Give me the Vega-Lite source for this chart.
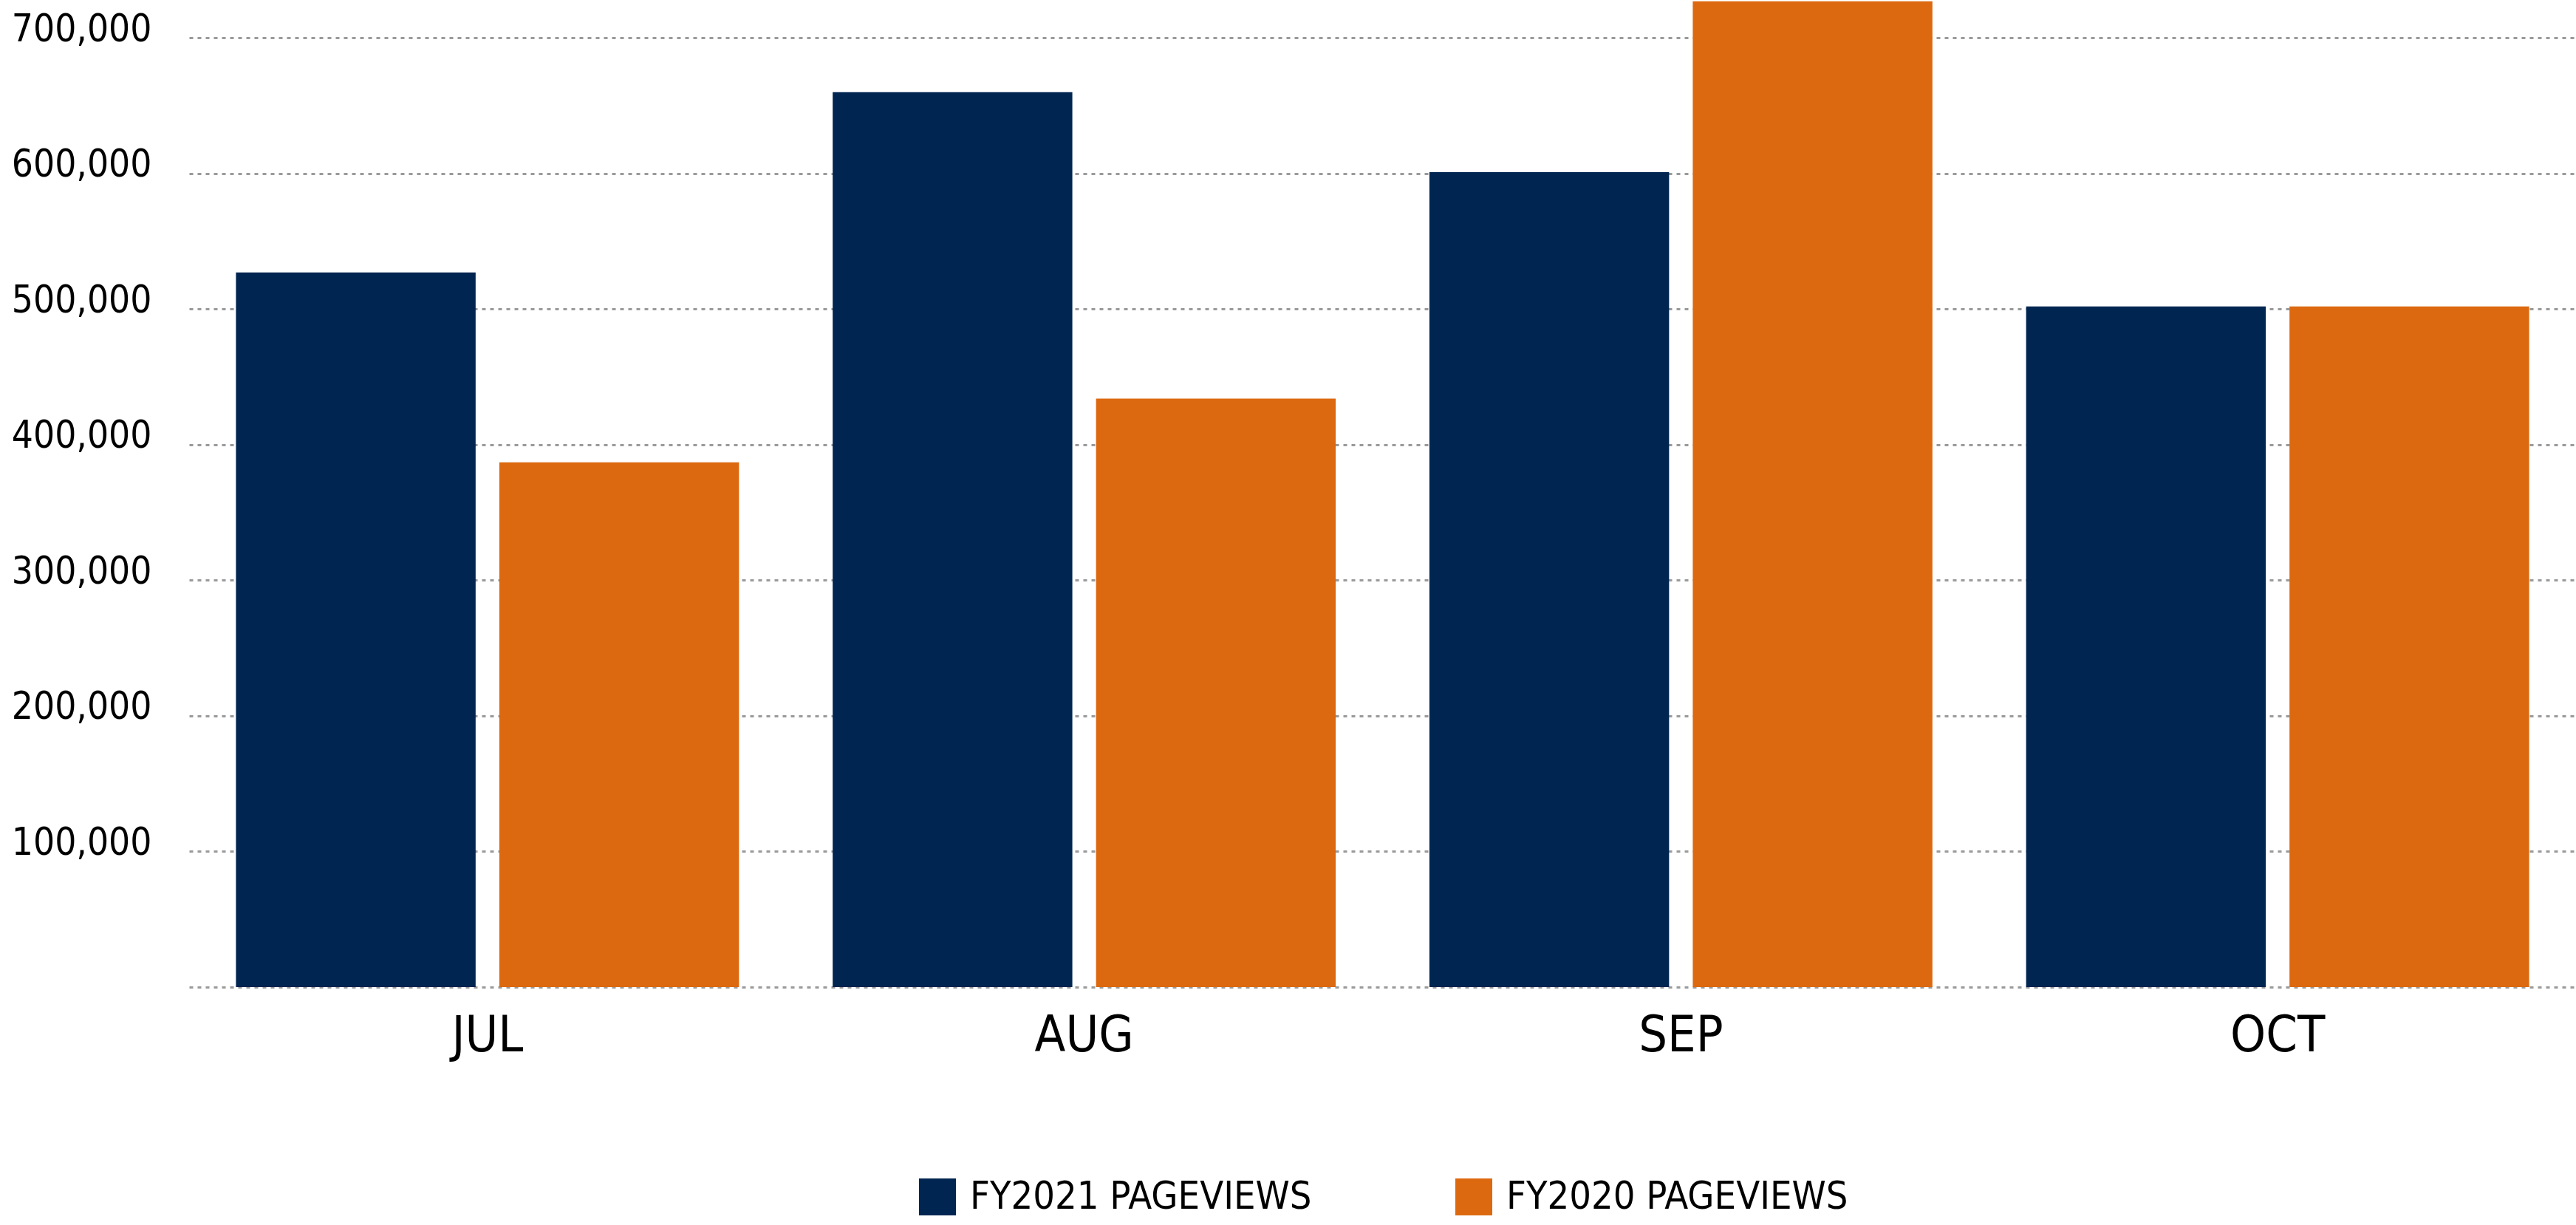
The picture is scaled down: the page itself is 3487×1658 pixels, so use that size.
{
  "$schema": "https://vega.github.io/schema/vega-lite/v6.json",
  "width": 3231,
  "height": 1336,
  "autosize": {"type": "none"},
  "padding": {"left": 256, "top": 0, "right": 0, "bottom": 322},
  "background": "white",
  "config": {
    "view": {"stroke": null},
    "font": "'Liberation Sans Narrow', 'DejaVu Sans Condensed', 'Roboto Condensed', Roboto, sans-serif"
  },
  "data": {
    "values": [
      {"month": "JUL", "series": "FY2021 PAGEVIEWS", "value": 527000},
      {"month": "JUL", "series": "FY2020 PAGEVIEWS", "value": 387000},
      {"month": "AUG", "series": "FY2021 PAGEVIEWS", "value": 660000},
      {"month": "AUG", "series": "FY2020 PAGEVIEWS", "value": 434000},
      {"month": "SEP", "series": "FY2021 PAGEVIEWS", "value": 601000},
      {"month": "SEP", "series": "FY2020 PAGEVIEWS", "value": 727000},
      {"month": "OCT", "series": "FY2021 PAGEVIEWS", "value": 502000},
      {"month": "OCT", "series": "FY2020 PAGEVIEWS", "value": 502000}
    ]
  },
  "mark": {"type": "bar"},
  "encoding": {
    "x": {
      "field": "month",
      "type": "nominal",
      "sort": ["JUL", "AUG", "SEP", "OCT"],
      "scale": {"paddingInner": 0.157, "paddingOuter": 0.0785},
      "axis": {
        "title": null,
        "domain": false,
        "ticks": false,
        "tickSize": 0,
        "grid": false,
        "labelAngle": 0,
        "labelFont": "'Liberation Sans Narrow', 'DejaVu Sans Condensed', 'Roboto Condensed', Roboto, sans-serif",
        "labelFontSize": 68,
        "labelColor": "#000000",
        "labelPadding": 32,
        "labelBaseline": "top",
        "labelLimit": 0
      }
    },
    "xOffset": {
      "field": "series",
      "type": "nominal",
      "sort": ["FY2021 PAGEVIEWS", "FY2020 PAGEVIEWS"],
      "scale": {"paddingInner": 0.09, "paddingOuter": 0}
    },
    "y": {
      "field": "value",
      "type": "quantitative",
      "scale": {"domain": [0, 728000], "nice": false},
      "axis": {
        "title": null,
        "domain": false,
        "ticks": false,
        "tickSize": 0,
        "values": [0, 100000, 200000, 300000, 400000, 500000, 600000, 700000],
        "labelExpr": "datum.value === 0 ? '' : format(datum.value, ',')",
        "labelFont": "'Liberation Sans Narrow', 'DejaVu Sans Condensed', 'Roboto Condensed', Roboto, sans-serif",
        "labelFontSize": 51,
        "labelColor": "#000000",
        "labelPadding": 51,
        "labelAlign": "right",
        "labelBaseline": "middle",
        "labelOffset": -11,
        "labelLimit": 0,
        "grid": true,
        "gridColor": "#9a9a9a",
        "gridWidth": 3,
        "gridDash": [5, 6],
        "gridOpacity": 1
      }
    },
    "color": {
      "field": "series",
      "type": "nominal",
      "scale": {
        "domain": ["FY2021 PAGEVIEWS", "FY2020 PAGEVIEWS"],
        "range": ["#012551", "#DC6910"]
      },
      "legend": {
        "title": null,
        "orient": "none",
        "direction": "horizontal",
        "legendX": 987,
        "legendY": 1594,
        "padding": 0,
        "symbolType": "square",
        "symbolSize": 2500,
        "symbolStrokeWidth": 0,
        "symbolOpacity": 1,
        "labelFont": "'Liberation Sans Narrow', 'DejaVu Sans Condensed', 'Roboto Condensed', Roboto, sans-serif",
        "labelFontSize": 52,
        "labelColor": "#000000",
        "labelOffset": 18,
        "labelLimit": 0,
        "columnPadding": 193
      }
    }
  }
}
